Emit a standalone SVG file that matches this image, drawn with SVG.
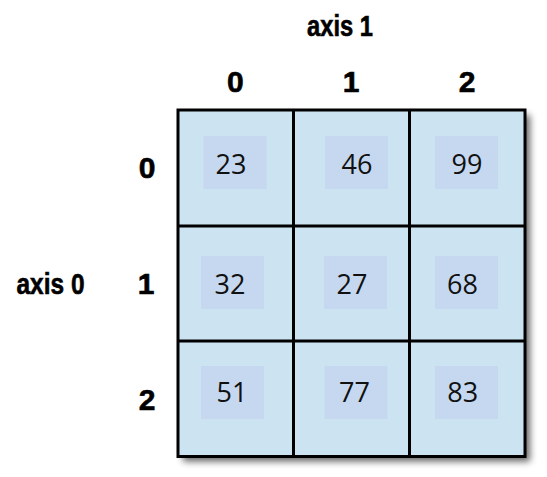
<svg xmlns="http://www.w3.org/2000/svg" width="547" height="477" viewBox="0 0 547 477">
  <defs>
    <filter id="shadow" x="-10%" y="-10%" width="125%" height="125%">
      <feGaussianBlur in="SourceAlpha" stdDeviation="3.5"/>
      <feOffset dx="5" dy="5" result="b"/>
      <feComponentTransfer><feFuncA type="linear" slope="0.6"/></feComponentTransfer>
      <feMerge><feMergeNode/><feMergeNode in="SourceGraphic"/></feMerge>
    </filter>
  </defs>
  <style>
    .cell { fill: #cce3f1; }
    .box { fill: #c5d8ef; }
    .num { font-family: "Open Sans", "Noto Sans", sans-serif; font-size: 27px; fill: #111; text-anchor: middle; }
    .lbl { font-family: "Liberation Sans", Arial, sans-serif; font-weight: bold; font-size: 30px; fill: #000; stroke: #000; stroke-width: 0.6; }
    .idx { text-anchor: middle; }
    .line { stroke: #000; stroke-width: 3; fill: none; }
  </style>

  <rect x="178" y="110" width="347" height="346.5" class="cell" filter="url(#shadow)"/>

  <g id="labels">
    <text class="lbl" x="307" y="36" textLength="66" lengthAdjust="spacingAndGlyphs">axis 1</text>
    <text class="lbl" x="16.5" y="294" textLength="68" lengthAdjust="spacingAndGlyphs">axis 0</text>
    <text class="lbl idx" x="235.3" y="92">0</text>
    <text class="lbl idx" x="351" y="92">1</text>
    <text class="lbl idx" x="467" y="92">2</text>
    <text class="lbl idx" x="147" y="178">0</text>
    <text class="lbl idx" x="146" y="294">1</text>
    <text class="lbl idx" x="147" y="410">2</text>
  </g>

  <g id="cell-0-0"><rect class="box" x="203.5" y="136" width="63" height="53"/><text class="num" x="231" y="173.5">23</text></g>
  <g id="cell-0-1"><rect class="box" x="325" y="136" width="63" height="53"/><text class="num" x="357" y="173.5">46</text></g>
  <g id="cell-0-2"><rect class="box" x="435" y="136" width="63" height="53"/><text class="num" x="467" y="173.5">99</text></g>

  <g id="cell-1-0"><rect class="box" x="201" y="256" width="63" height="53"/><text class="num" x="230" y="294">32</text></g>
  <g id="cell-1-1"><rect class="box" x="324" y="256" width="63" height="53"/><text class="num" x="352" y="294">27</text></g>
  <g id="cell-1-2"><rect class="box" x="435" y="256" width="63" height="53"/><text class="num" x="462.5" y="294">68</text></g>

  <g id="cell-2-0"><rect class="box" x="201" y="366" width="63" height="53"/><text class="num" x="232" y="401.5">51</text></g>
  <g id="cell-2-1"><rect class="box" x="324.5" y="366" width="63" height="53"/><text class="num" x="354.5" y="401.5">77</text></g>
  <g id="cell-2-2"><rect class="box" x="435" y="366" width="63" height="53"/><text class="num" x="462.7" y="401.5">83</text></g>

  <g id="connectors">
    <rect class="line" x="178" y="110" width="347" height="346.5"/>
    <line class="line" x1="293.5" y1="110" x2="293.5" y2="456.5"/>
    <line class="line" x1="409.5" y1="110" x2="409.5" y2="456.5"/>
    <line class="line" x1="178" y1="226" x2="525" y2="226"/>
    <line class="line" x1="178" y1="341" x2="525" y2="341"/>
  </g>
</svg>
